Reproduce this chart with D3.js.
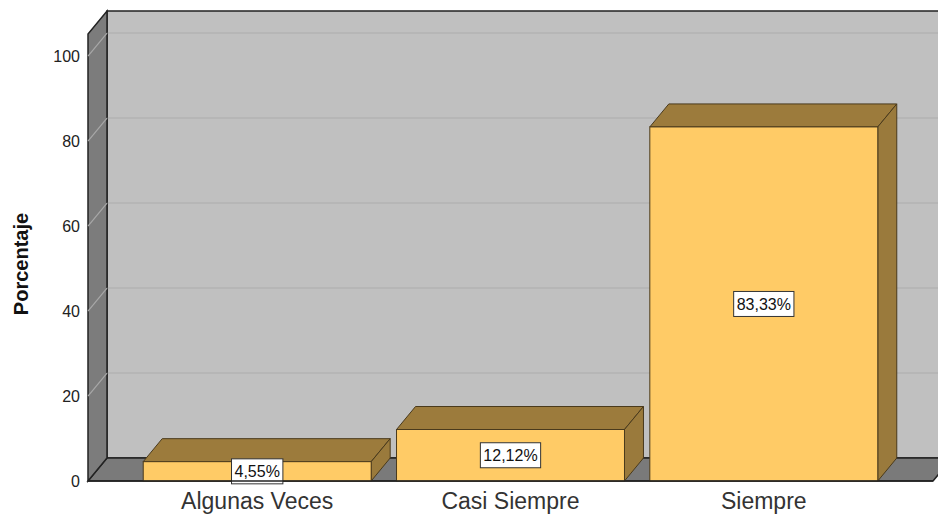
<!DOCTYPE html>
<html>
<head>
<meta charset="utf-8">
<title>Porcentaje</title>
<script src="https://d3js.org/d3.v7.min.js"></script>
<style>
  body { margin: 0; background: #fff; }
  text { font-family: "Liberation Sans", Arial, sans-serif; }
</style>
</head>
<body>
<script>
var categories = ["Algunas Veces", "Casi Siempre", "Siempre"];
var values = [4.55, 12.12, 83.33];
var labels = ["4,55%", "12,12%", "83,33%"];
var yTicks = [0, 20, 40, 60, 80, 100];

var width = 938, height = 517;
var dx = 19, dy = -23; // depth offset

var svg = d3.select("body").append("svg")
    .attr("width", width)
    .attr("height", height);

var y = d3.scaleLinear().domain([0, 105.2]).range([481, 34]);
var x = d3.scaleBand().domain(categories).range([88, 933])
    .paddingInner(0.1).paddingOuter(0.218);

var x0 = 88, x1 = 933, yb = y(0), yt = y(105.2);

// back wall
svg.append("rect")
    .attr("x", x0 + dx).attr("y", yt + dy)
    .attr("width", x1 - x0 + 20).attr("height", yb - yt)
    .attr("fill", "#c0c0c0")
    .attr("stroke", "#222").attr("stroke-width", 1.5);

// gridlines on back wall
svg.selectAll(".grid").data(yTicks.slice(1)).enter().append("line")
    .attr("x1", x0 + dx).attr("x2", x1 + dx + 10)
    .attr("y1", function(d) { return y(d) + dy; })
    .attr("y2", function(d) { return y(d) + dy; })
    .attr("stroke", "#b3b3b3").attr("stroke-width", 1.5);

// floor
svg.append("path")
    .attr("d", "M" + x0 + "," + yb + "L" + (x0 + dx) + "," + (yb + dy) +
        "L" + (x1 + dx) + "," + (yb + dy) + "L" + x1 + "," + yb + "Z")
    .attr("fill", "#7a7a7a")
    .attr("stroke", "#222").attr("stroke-width", 1.5);

// left wall
svg.append("path")
    .attr("d", "M" + x0 + "," + yb + "L" + x0 + "," + yt +
        "L" + (x0 + dx) + "," + (yt + dy) + "L" + (x0 + dx) + "," + (yb + dy) + "Z")
    .attr("fill", "#7c7c7c")
    .attr("stroke", "#222").attr("stroke-width", 1.5);

// diagonal gridlines on left wall
svg.selectAll(".wgrid").data(yTicks.slice(1)).enter().append("line")
    .attr("x1", x0).attr("x2", x0 + dx)
    .attr("y1", function(d) { return y(d); })
    .attr("y2", function(d) { return y(d) + dy; })
    .attr("stroke", "#a8a8a8").attr("stroke-width", 1.2);

// y tick labels
svg.selectAll(".ytick").data(yTicks).enter().append("text")
    .attr("x", 80)
    .attr("y", function(d) { return y(d); })
    .attr("dy", "0.35em")
    .attr("text-anchor", "end")
    .attr("font-size", 16)
    .attr("fill", "#222")
    .text(function(d) { return d; });

// y title
svg.append("text")
    .attr("transform", "translate(28,264) rotate(-90)")
    .attr("text-anchor", "middle")
    .attr("font-size", 20)
    .attr("font-weight", "bold")
    .attr("fill", "#111")
    .text("Porcentaje");

// bars
var bars = svg.selectAll(".bar").data(values).enter().append("g").attr("class", "bar");

bars.append("path") // top
    .attr("d", function(d, i) {
        var l = x(categories[i]), r = l + x.bandwidth(), t = y(d);
        return "M" + l + "," + t + "L" + (l + dx) + "," + (t + dy) +
            "L" + (r + dx) + "," + (t + dy) + "L" + r + "," + t + "Z";
    })
    .attr("fill", "#9c7b3c").attr("stroke", "#4a3a1c").attr("stroke-width", 1);

bars.append("path") // side
    .attr("d", function(d, i) {
        var r = x(categories[i]) + x.bandwidth(), t = y(d);
        return "M" + r + "," + t + "L" + (r + dx) + "," + (t + dy) +
            "L" + (r + dx) + "," + (yb + dy) + "L" + r + "," + yb + "Z";
    })
    .attr("fill", "#9a7a3c").attr("stroke", "#4a3a1c").attr("stroke-width", 1);

bars.append("rect") // front
    .attr("x", function(d, i) { return x(categories[i]); })
    .attr("y", function(d) { return y(d); })
    .attr("width", x.bandwidth())
    .attr("height", function(d) { return yb - y(d); })
    .attr("fill", "#ffcb66").attr("stroke", "#4a3a1c").attr("stroke-width", 1);

// floor front edge
svg.append("line")
    .attr("x1", x0).attr("x2", x1).attr("y1", yb).attr("y2", yb)
    .attr("stroke", "#222").attr("stroke-width", 1.5);

// value labels
bars.each(function(d, i) {
    var g = d3.select(this);
    var cx = x(categories[i]) + x.bandwidth() / 2;
    var cy = (y(d) + yb) / 2;
    var t = g.append("text")
        .attr("x", cx).attr("y", cy).attr("dy", "0.35em")
        .attr("text-anchor", "middle")
        .attr("font-size", 16)
        .attr("fill", "#111")
        .text(labels[i]);
    var bb = t.node().getBBox();
    g.insert("rect", "text")
        .attr("x", bb.x - 3).attr("y", cy - 12.5)
        .attr("width", bb.width + 6).attr("height", 25)
        .attr("fill", "#fff").attr("stroke", "#333").attr("stroke-width", 1);
});

// category labels
svg.selectAll(".xlab").data(categories).enter().append("text")
    .attr("x", function(d) { return x(d) + x.bandwidth() / 2; })
    .attr("y", 509)
    .attr("text-anchor", "middle")
    .attr("font-size", 23)
    .attr("fill", "#333")
    .text(function(d) { return d; });
</script>
</body>
</html>
